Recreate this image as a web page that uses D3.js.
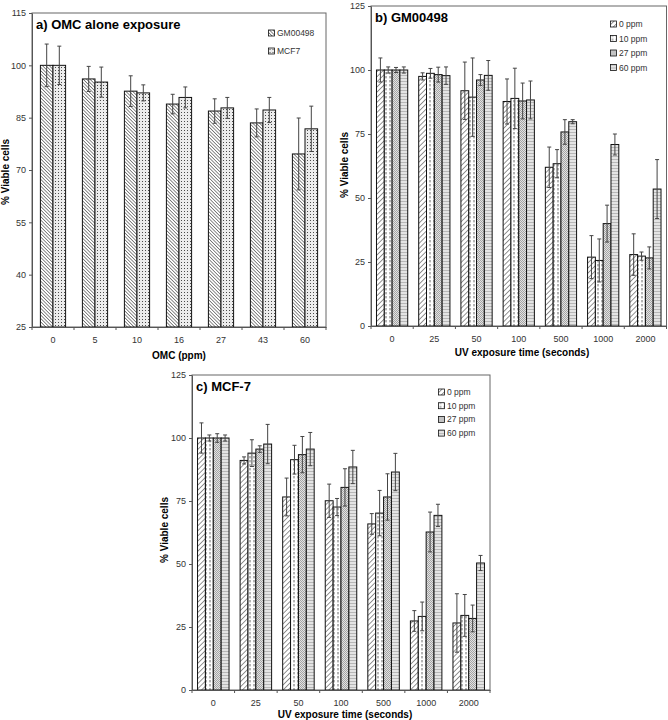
<!DOCTYPE html>
<html>
<head>
<meta charset="utf-8">
<script src="https://cdnjs.cloudflare.com/ajax/libs/d3/7.8.5/d3.min.js"></script>
<style>
  body { margin: 0; background: #fff; }
  text { font-family: "Liberation Sans", Arial, sans-serif; }
</style>
</head>
<body>
<script>
// ---- panel a data (OMC alone) ----
var omcDoses = ["0", "5", "10", "16", "27", "43", "60"];
var omcSeries = ["GM00498", "MCF7"];
var omcGM = [100, 96.1, 92.6, 88.9, 86.9, 83.5, 74.6];
var omcGMErr = [6.1, 3.6, 4.4, 2.8, 3.5, 4.0, 10.3];
var omcMCF = [100, 95.2, 92.1, 90.8, 87.8, 87.2, 81.8];
var omcMCFErr = [5.5, 4.3, 2.3, 3.0, 3.0, 3.6, 6.5];
var omcTicks = [25, 40, 55, 70, 85, 100, 115];

// ---- panels b and c (UV exposure) ----
var uvTimes = ["0", "25", "50", "100", "500", "1000", "2000"];
var ppmSeries = ["0 ppm", "10 ppm", "27 ppm", "60 ppm"];
var uvTicks = [0, 25, 50, 75, 100, 125];

// b) GM00498
var gm0 = [100, 97.5, 91.9, 87.7, 62.0, 26.9, 27.9];
var gm0Err = [4.7, 1.4, 11.2, 8.8, 7.9, 8.4, 8.1];
var gm10 = [100, 98.7, 89.4, 88.9, 63.4, 25.6, 27.3];
var gm10Err = [1.2, 1.9, 15.3, 11.8, 5.5, 8.4, 1.6];
var gm27 = [100, 98.2, 96.1, 87.9, 75.8, 40.0, 26.6];
var gm27Err = [1.0, 2.9, 2.1, 7.0, 4.8, 7.2, 4.3];
var gm60 = [100, 97.8, 97.9, 88.3, 79.8, 70.9, 53.5];
var gm60Err = [1.2, 3.4, 5.8, 7.4, 0.8, 4.1, 11.5];

// c) MCF-7
var mcf0 = [100, 91.1, 76.6, 75.1, 65.9, 27.4, 26.6];
var mcf0Err = [6.0, 1.4, 7.5, 6.6, 4.1, 4.1, 11.6];
var mcf10 = [100, 94.0, 91.4, 72.6, 70.2, 29.2, 29.6];
var mcf10Err = [1.2, 5.3, 5.7, 3.4, 9.0, 5.7, 8.3];
var mcf27 = [100, 95.6, 93.4, 80.4, 76.6, 62.7, 28.4];
var mcf27Err = [1.7, 1.3, 7.2, 7.4, 9.2, 7.9, 5.3];
var mcf60 = [100, 97.6, 95.6, 88.5, 86.5, 69.3, 50.4];
var mcf60Err = [1.2, 7.8, 6.6, 6.6, 7.4, 4.4, 3.0];

var svg = d3.select("body").append("svg")
  .attr("width", 668)
  .attr("height", 720);

var defs = svg.append("defs");

//hatch patterns
function linePattern(id, size, angle, bg, stroke, sw) {
  var pat = defs.append("pattern")
    .attr("id", id)
    .attr("patternUnits", "userSpaceOnUse")
    .attr("width", size)
    .attr("height", size)
    .attr("patternTransform", "rotate(" + angle + ")");
  pat.append("rect").attr("width", size).attr("height", size).attr("fill", bg);
  pat.append("line")
    .attr("x1", 0).attr("y1", 0).attr("x2", 0).attr("y2", size)
    .attr("stroke", stroke).attr("stroke-width", sw);
}
linePattern("hatchBack", 2.4, -45, "#fff", "#000", 0.9);
linePattern("hatchFwd", 3.6, 45, "#fff", "#111", 0.9);
linePattern("hlines", 3, 90, "#e4e4e4", "#8a8a8a", 1);

//dots for MCF7
var dots = defs.append("pattern").attr("id", "dots")
  .attr("patternUnits", "userSpaceOnUse").attr("width", 3).attr("height", 3);
dots.append("rect").attr("width", 3).attr("height", 3).attr("fill", "#ececec");
dots.append("rect").attr("x", 1).attr("y", 1).attr("width", 0.9).attr("height", 0.9).attr("fill", "#222");

//vertical dashes for 10 ppm
var vdash = defs.append("pattern").attr("id", "vdash")
  .attr("patternUnits", "userSpaceOnUse").attr("width", 4).attr("height", 4);
vdash.append("rect").attr("width", 4).attr("height", 4).attr("fill", "#fff");
vdash.append("line").attr("x1", 2).attr("y1", 0).attr("x2", 2).attr("y2", 2.4)
  .attr("stroke", "#444").attr("stroke-width", 0.8);

//checker for 27 ppm
var checker = defs.append("pattern").attr("id", "checker")
  .attr("patternUnits", "userSpaceOnUse").attr("width", 2).attr("height", 2);
checker.append("rect").attr("width", 2).attr("height", 2).attr("fill", "#e2e2e2");
checker.append("rect").attr("width", 1).attr("height", 1).attr("fill", "#a4a4a4");
checker.append("rect").attr("x", 1).attr("y", 1).attr("width", 1).attr("height", 1).attr("fill", "#a4a4a4");

function drawPanel(p) {
  var g = svg.append("g");

  var x = d3.scaleBand()
    .domain(p.cats)
    .range([p.left, p.right])
    .paddingInner(p.pad)
    .paddingOuter(p.pad / 2);

  var xs = d3.scaleBand()
    .domain(p.series)
    .range([0, x.bandwidth()]);

  var y = d3.scaleLinear()
    .domain(p.yDomain)
    .range([p.bottom, p.top]);

  //frame
  g.append("rect")
    .attr("x", p.left).attr("y", p.top)
    .attr("width", p.right - p.left).attr("height", p.bottom - p.top)
    .attr("fill", "none").attr("stroke", "#666").attr("stroke-width", 1);

  //bars + error bars for each series
  p.series.forEach(function(s, si) {
    var rows = p.cats.map(function(c, i) {
      return {cat: c, v: p.values[si][i], e: p.errors[si][i]};
    });
    var sg = g.append("g");

    sg.selectAll("rect")
      .data(rows)
      .enter()
      .append("rect")
      .attr("x", function(d) { return x(d.cat) + xs(s); })
      .attr("y", function(d) { return y(d.v); })
      .attr("width", xs.bandwidth())
      .attr("height", function(d) { return y(p.yDomain[0]) - y(d.v); })
      .attr("fill", "url(#" + p.patterns[si] + ")")
      .attr("stroke", "#111")
      .attr("stroke-width", 1);

    var eg = sg.selectAll(".err")
      .data(rows)
      .enter()
      .append("g")
      .attr("class", "err")
      .attr("stroke", "#444")
      .attr("stroke-width", 1);

    function cx(d) { return x(d.cat) + xs(s) + xs.bandwidth() / 2; }

    eg.append("line")
      .attr("x1", cx).attr("x2", cx)
      .attr("y1", function(d) { return y(d.v - d.e); })
      .attr("y2", function(d) { return y(d.v + d.e); });
    eg.append("line")
      .attr("x1", function(d) { return cx(d) - 2; })
      .attr("x2", function(d) { return cx(d) + 2; })
      .attr("y1", function(d) { return y(d.v + d.e); })
      .attr("y2", function(d) { return y(d.v + d.e); });
    eg.append("line")
      .attr("x1", function(d) { return cx(d) - 2; })
      .attr("x2", function(d) { return cx(d) + 2; })
      .attr("y1", function(d) { return y(d.v - d.e); })
      .attr("y2", function(d) { return y(d.v - d.e); });
  });

  //left axis
  var ya = g.append("g")
    .attr("transform", "translate(" + p.left + ",0)")
    .call(d3.axisLeft(y).tickValues(p.yTicks).tickSize(3).tickSizeOuter(0).tickPadding(3));
  ya.select(".domain").attr("stroke", "#555");
  ya.selectAll(".tick line").attr("stroke", "#555");
  ya.selectAll("text").attr("font-size", 9).attr("fill", "#333")
    .style("font-family", "Liberation Sans, Arial, sans-serif");

  //bottom axis
  var xa = g.append("g")
    .attr("transform", "translate(0," + p.bottom + ")")
    .call(d3.axisBottom(x).tickSize(0).tickSizeOuter(0).tickPadding(10));
  xa.select(".domain").attr("stroke", "#555");
  xa.selectAll("text").attr("font-size", 9).attr("fill", "#333")
    .style("font-family", "Liberation Sans, Arial, sans-serif");

  //ticks between the groups
  var edges = p.cats.map(function(c) { return x(c) - x.step() * x.paddingInner() / 2; });
  edges.push(p.right);
  xa.selectAll(".edge")
    .data(edges)
    .enter()
    .append("line")
    .attr("class", "edge")
    .attr("x1", function(d) { return d; }).attr("x2", function(d) { return d; })
    .attr("y1", 0).attr("y2", 3)
    .attr("stroke", "#555");

  //labels
  g.append("text")
    .attr("x", p.left + 4).attr("y", p.top + 15.5)
    .attr("font-size", 13).attr("font-weight", "bold")
    .text(p.title);

  g.append("text")
    .attr("text-anchor", "middle")
    .attr("transform", "translate(" + p.xTitlePos[0] + "," + p.xTitlePos[1] + ")")
    .attr("font-size", 10).attr("font-weight", "bold")
    .text(p.xTitle);

  g.append("text")
    .attr("text-anchor", "middle")
    .attr("transform", "translate(" + p.yTitlePos[0] + "," + p.yTitlePos[1] + ") rotate(-90)")
    .attr("font-size", 10).attr("font-weight", "bold")
    .text("% Viable cells");

  //legend
  var lg = g.append("g")
    .attr("transform", "translate(" + p.legendPos[0] + "," + p.legendPos[1] + ")");
  var items = lg.selectAll(".item")
    .data(p.series)
    .enter()
    .append("g")
    .attr("class", "item")
    .attr("transform", function(d, i) { return "translate(0," + (i * p.legendGap) + ")"; });
  items.append("rect")
    .attr("x", 0).attr("y", -3).attr("width", 6).attr("height", 6)
    .attr("fill", function(d, i) { return "url(#" + p.patterns[i] + ")"; })
    .attr("stroke", "#111").attr("stroke-width", 0.8);
  items.append("text")
    .attr("x", 8.5).attr("y", 3)
    .attr("font-size", 8.5).attr("fill", "#333")
    .text(function(d) { return d; });
}

drawPanel({
  cats: omcDoses, series: omcSeries,
  values: [omcGM, omcMCF], errors: [omcGMErr, omcMCFErr],
  patterns: ["hatchBack", "dots"],
  yDomain: [25, 115], yTicks: omcTicks,
  left: 32, right: 326, top: 13, bottom: 327, pad: 0.4,
  title: "a) OMC alone exposure",
  xTitle: "OMC (ppm)", xTitlePos: [179, 359],
  yTitlePos: [9, 172],
  legendPos: [268.5, 33], legendGap: 18
});

drawPanel({
  cats: uvTimes, series: ppmSeries,
  values: [gm0, gm10, gm27, gm60], errors: [gm0Err, gm10Err, gm27Err, gm60Err],
  patterns: ["hatchFwd", "vdash", "checker", "hlines"],
  yDomain: [0, 125], yTicks: uvTicks,
  left: 371, right: 666.5, top: 6, bottom: 326, pad: 0.26,
  title: "b) GM00498",
  xTitle: "UV exposure time (seconds)", xTitlePos: [522, 356],
  yTitlePos: [348, 165],
  legendPos: [610.5, 24], legendGap: 14.5
});

drawPanel({
  cats: uvTimes, series: ppmSeries,
  values: [mcf0, mcf10, mcf27, mcf60], errors: [mcf0Err, mcf10Err, mcf27Err, mcf60Err],
  patterns: ["hatchFwd", "vdash", "checker", "hlines"],
  yDomain: [0, 125], yTicks: uvTicks,
  left: 192, right: 490, top: 375, bottom: 690, pad: 0.26,
  title: "c) MCF-7",
  xTitle: "UV  exposure time (seconds)", xTitlePos: [345, 718],
  yTitlePos: [168, 530],
  legendPos: [438.5, 392], legendGap: 13.7
});
</script>
</body>
</html>
